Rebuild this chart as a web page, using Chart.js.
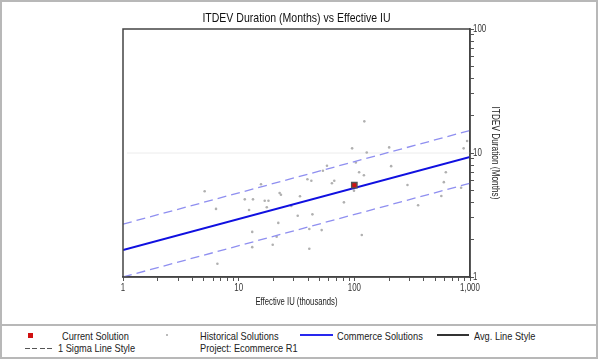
<!DOCTYPE html>
<html lang="en">
<head>
  <meta charset="UTF-8" />
  <title>ITDEV Duration vs Effective IU</title>
  <script src="https://cdn.jsdelivr.net/npm/chart.js"></script>
  <style>
    * { margin: 0; padding: 0; box-sizing: border-box; }
    body {
      width: 600px; height: 359px;
      background: #fff;
      overflow: hidden;
      position: relative;
      font-family: 'Liberation Sans', Arial, sans-serif;
      color: #222;
    }
    .panel {
      position: absolute; left: 0; top: 0; width: 598px; height: 326px;
      border: 2px solid #b8b8b8;
    }
    .legend-box {
      position: absolute; left: 0; top: 325px; width: 598px; height: 34px;
      border: 2px solid #b8b8b8; border-top: none;
    }
    canvas { position: absolute; left: 0; top: 0; }
    .lg {
      position: absolute; font-size: 11px; line-height: 12px; white-space: nowrap;
      transform: scaleX(0.84); transform-origin: left center;
    }
    .sw { position: absolute; }
    .dash {
      height: 1px;
      background: repeating-linear-gradient(to right, #555 0 5px, transparent 5px 7.5px);
    }
  </style>
</head>
<body>
  <div class="panel"></div>
  <div class="legend-box"></div>
  <canvas id="chart" width="600" height="325"></canvas>

  <!-- legend -->
  <div class="sw" style="left:28px;top:333px;width:5px;height:5px;background:#d01010;"></div>
  <div class="lg" style="left:62px;top:330px;">Current Solution</div>
  <div class="sw dash" style="left:25px;top:348px;width:28px;"></div>
  <div class="lg" style="left:58px;top:342px;">1 Sigma Line Style</div>
  <div class="sw" style="left:166px;top:334px;width:2px;height:2px;background:#bbb;"></div>
  <div class="lg" style="left:200px;top:330px;">Historical Solutions</div>
  <div class="lg" style="left:200px;top:342px;">Project: Ecommerce R1</div>
  <div class="sw" style="left:300px;top:334px;width:33px;border-top:2px solid #2828ee;"></div>
  <div class="lg" style="left:337px;top:330px;">Commerce Solutions</div>
  <div class="sw" style="left:437px;top:334px;width:32px;border-top:2px solid #333;"></div>
  <div class="lg" style="left:474px;top:330px;">Avg. Line Style</div>

  <script>
    // Historical solutions: effective IU (thousands) and duration (months)
    const histIU = [5.08, 6.37, 6.55, 11.3, 13.3, 12.3, 15.6, 16.8, 18.1, 17.5,
      22.6, 23.2, 22.0, 21.3, 19.7, 13.1, 13.1, 33.9, 28.5, 32.4,
      39.3, 42.5, 43.4, 40.8, 40.8, 52.2, 58.0, 53.5, 64.0, 67.1,
      81.3, 122, 95.7, 128, 103, 110, 121, 99.3, 116, 200,
      208, 288, 356, 565, 594, 618, 838, 881, 944];
    const histMonths = [4.91, 3.54, 1.28, 4.23, 4.23, 3.47, 5.59, 4.12, 4.12, 3.65,
      4.76, 4.61, 2.73, 2.11, 1.82, 2.31, 1.74, 4.48, 3.74, 3.12,
      6.14, 5.98, 3.20, 2.44, 1.69, 2.39, 7.90, 7.20, 5.70, 5.98,
      4.00, 18.0, 10.9, 10.1, 8.38, 6.99, 6.61, 4.97, 2.18, 11.1,
      7.83, 5.52, 3.79, 4.50, 5.82, 6.99, 5.24, 10.9, 12.5];

    // Current solution
    const currentIU = [100];
    const currentMonths = [5.5];

    // Trend lines (ends at IU = 1 and 1,000)
    const lineIU = [1, 1000];
    const avgMonths = [1.65, 9.3];
    const upperMonths = [2.67, 15.2];
    const lowerMonths = [1.0, 5.7];

    // axis ticks
    const xDecades = [1, 10, 100];
    const yDecades = [1, 10];
    const tickSteps = [1, 2, 3, 4, 5, 6, 7, 8, 9];
    const xLabelValues = [1, 10, 100, 1000];
    const xLabels = ['1', '10', '100', '1,000'];
    const yLabelValues = [1, 10, 100];
    const yLabels = ['1', '10', '100'];
    const gridMonths = 10;

    const FONT = "'Liberation Sans', Arial, sans-serif";

    const toPts = (xs, ys) => xs.map((x, i) => ({ x: x, y: ys[i] }));
    const logTicks = (decades, last) => {
      const t = [];
      decades.forEach(d => tickSteps.forEach(s => t.push({ value: d * s })));
      t.push({ value: last });
      return t;
    };

    // narrow text helper (the original uses a condensed face)
    function narrowText(ctx, text, x, y, size, sx, align, rot) {
      ctx.save();
      ctx.translate(x, y);
      if (rot) ctx.rotate(rot);
      ctx.scale(sx, 1);
      ctx.font = size + 'px ' + FONT;
      ctx.textAlign = align;
      ctx.textBaseline = 'middle';
      ctx.fillText(text, 0, 0);
      ctx.restore();
    }

    const framePlugin = {
      id: 'frame',
      beforeDatasetsDraw(chart) {
        const { ctx, chartArea: a, scales } = chart;
        const gy = scales.y.getPixelForValue(gridMonths);
        ctx.save();
        ctx.strokeStyle = '#ececec';
        ctx.lineWidth = 1;
        ctx.beginPath();
        ctx.moveTo(a.left + 4, gy);
        ctx.lineTo(a.right, gy);
        ctx.stroke();
        ctx.restore();
      },
      afterDraw(chart) {
        const { ctx, chartArea: a, scales } = chart;
        ctx.save();
        ctx.strokeStyle = '#444';
        ctx.lineWidth = 1.5;
        ctx.strokeRect(a.left, a.top, a.right - a.left, a.bottom - a.top);

        ctx.fillStyle = '#111';
        narrowText(ctx, 'ITDEV Duration (Months) vs Effective IU', (a.left + a.right) / 2, 18, 13, 0.81, 'center');

        ctx.fillStyle = '#222';
        narrowText(ctx, 'Effective IU (thousands)', (a.left + a.right) / 2, 302, 11, 0.7, 'center');
        narrowText(ctx, 'ITDEV Duration (Months)', 495, (a.top + a.bottom) / 2, 11.5, 0.72, 'center', Math.PI / 2);

        ctx.fillStyle = '#333';
        xLabelValues.forEach((v, i) => {
          narrowText(ctx, xLabels[i], scales.x.getPixelForValue(v), 288, 11, 0.72, 'center');
        });
        yLabelValues.forEach((v, i) => {
          narrowText(ctx, yLabels[i], a.right + 3, scales.y.getPixelForValue(v), 11, 0.72, 'left');
        });
        ctx.restore();
      }
    };

    new Chart(document.getElementById('chart'), {
      type: 'scatter',
      data: {
        datasets: [
          {
            label: 'Current Solution',
            data: toPts(currentIU, currentMonths),
            pointStyle: 'rect',
            pointRadius: 3.8,
            backgroundColor: '#d01010',
            borderColor: '#555',
            borderWidth: 1.4
          },
          {
            label: 'Commerce Solutions',
            data: toPts(lineIU, avgMonths),
            showLine: true,
            pointRadius: 0,
            borderColor: '#1010e0',
            borderWidth: 2
          },
          {
            label: 'Upper Sigma',
            data: toPts(lineIU, upperMonths),
            showLine: true,
            pointRadius: 0,
            borderColor: '#8f8ff0',
            borderWidth: 1.3,
            borderDash: [9, 5]
          },
          {
            label: 'Lower Sigma',
            data: toPts(lineIU, lowerMonths),
            showLine: true,
            pointRadius: 0,
            borderColor: '#8f8ff0',
            borderWidth: 1.3,
            borderDash: [9, 5]
          },
          {
            label: 'Historical Solutions',
            data: toPts(histIU, histMonths),
            pointRadius: 1.3,
            backgroundColor: '#b0b0b0',
            borderColor: '#b0b0b0',
            borderWidth: 0
          }
        ]
      },
      options: {
        responsive: false,
        animation: false,
        devicePixelRatio: 1,
        layout: { padding: { left: 123, top: 29, right: 0, bottom: 0 } },
        plugins: {
          legend: { display: false },
          tooltip: { enabled: false }
        },
        scales: {
          x: {
            type: 'logarithmic',
            position: 'bottom',
            min: 1,
            max: 1000,
            afterBuildTicks: s => { s.ticks = logTicks(xDecades, 1000); },
            afterFit: s => { s.height = 48; },
            grid: { drawOnChartArea: false, drawTicks: true, tickLength: 4, color: '#555' },
            border: { display: true, color: '#444', width: 1.5 },
            ticks: { display: false, autoSkip: false }
          },
          y: {
            type: 'logarithmic',
            position: 'right',
            min: 1,
            max: 100,
            afterBuildTicks: s => { s.ticks = logTicks(yDecades, 100); },
            afterFit: s => { s.width = 130; },
            grid: { drawOnChartArea: false, drawTicks: true, tickLength: 4, color: '#555' },
            border: { display: true, color: '#444', width: 1.5 },
            ticks: { display: false, autoSkip: false }
          }
        }
      },
      plugins: [framePlugin]
    });
  </script>
</body>
</html>
